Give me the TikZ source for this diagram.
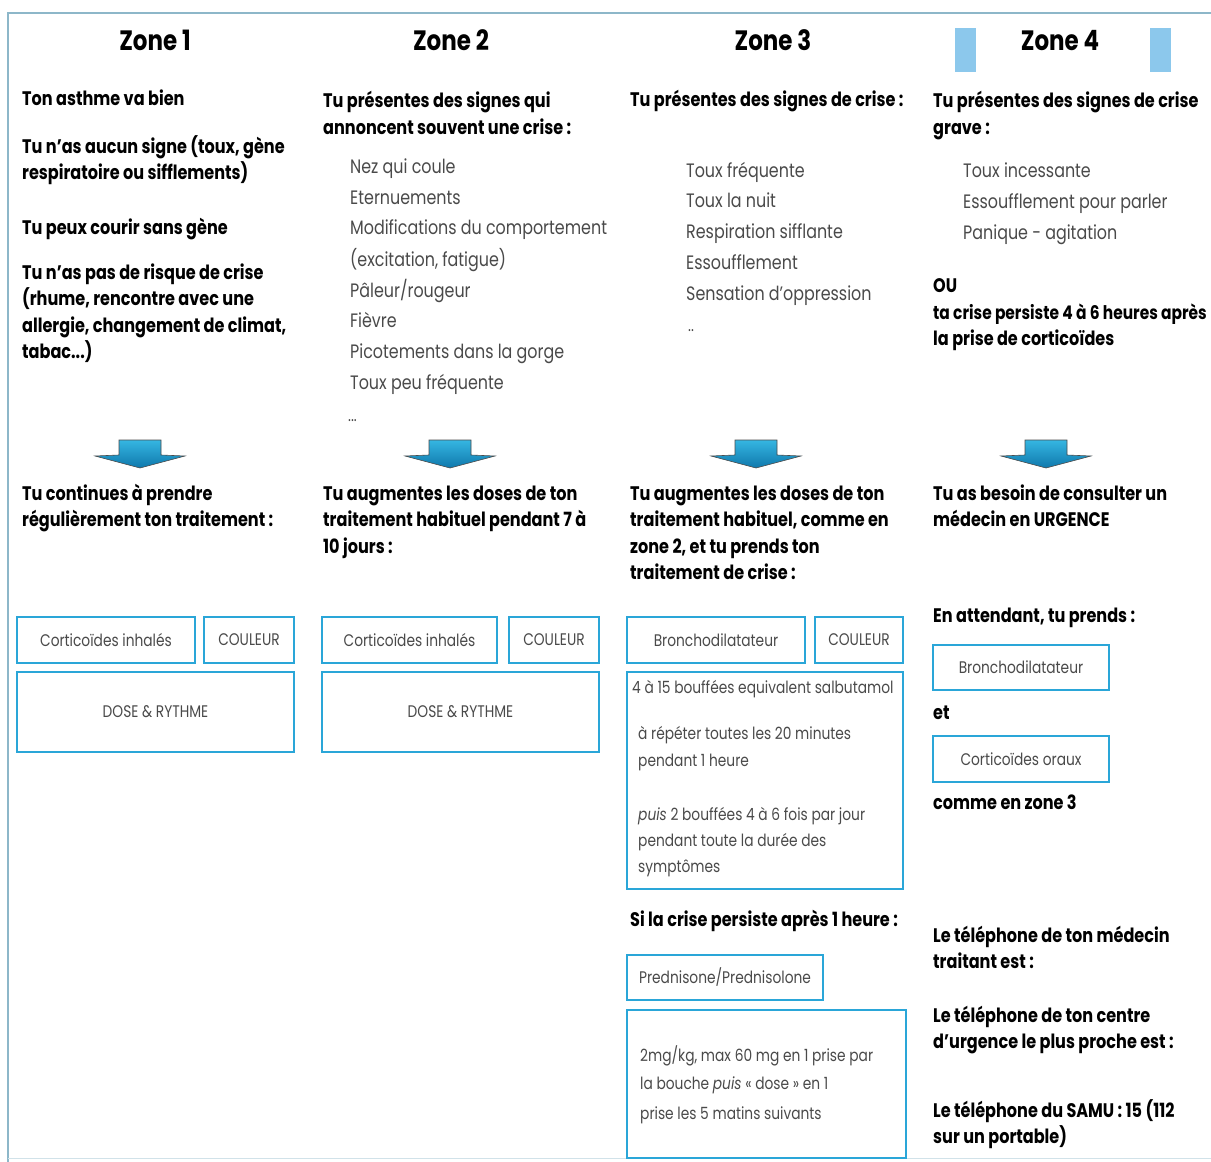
\documentclass[tikz,border=0pt]{standalone}
\usepackage{fontspec}
\setmainfont{Poppins}[FakeStretch=0.82]
\usetikzlibrary{shadings}
\definecolor{boxblue}{HTML}{2AA6D8}
\definecolor{framec}{HTML}{8DB7C9}
\definecolor{barblue}{HTML}{8CC8EC}
\definecolor{arrtop}{HTML}{35B6E2}
\definecolor{arrbot}{HTML}{0F78AC}
\definecolor{litec}{HTML}{4A4A4A}
\tikzset{
  bold/.style={font=\bfseries\fontsize{19.6}{23}\selectfont, text=black, inner sep=0pt, anchor=base west},
  lite/.style={font=\fontsize{19.4}{24}\selectfont, text=litec, inner sep=0pt, anchor=base west},
  small/.style={font=\fontsize{16.8}{19}\selectfont, text=litec, inner sep=0pt, anchor=base west},
  title/.style={font=\bfseries\fontsize{28}{30}\selectfont, text=black, inner sep=0pt, anchor=base},
  bx/.style={draw=boxblue, line width=1.6pt, rectangle, inner sep=0pt, font=\fontsize{16.8}{19}\selectfont, text=litec},
  downarrow/.style={top color=arrtop, bottom color=arrbot, draw=black!70, line width=0.6pt},
}
\newcommand\tl[5]{\node[#2] (#1) at (#3,#4) {#5};}
\newcommand\bxn[6]{\node[bx, minimum width={(#4)-(#2)}, minimum height={(#5)-(#3)}] (#1) at ({((#2)+(#4))/2},{((#3)+(#5))/2}) {#6};}
\newcommand\darr[2]{\draw[downarrow] (#2-21,440) -- (#2+21,440) -- (#2+21,455) -- (#2+45,456) -- (#2,468) -- (#2-45,456) -- (#2-21,455) -- cycle;}
\begin{document}
\begin{tikzpicture}[x=1pt,y=-1pt]
\useasboundingbox (0,0) rectangle (1211,1162);
\fill[white] (0,0) rectangle (1211,1162);
% frame
\draw[framec, line width=1.5pt] (8,1162) -- (8,13) -- (1211,13);
\draw[framec!40, line width=1pt] (8,1158) -- (1211,1158);
% zone 4 bars
\fill[barblue] (955,28) rectangle (976,72);
\fill[barblue] (1150,28) rectangle (1171,72);
% titles
\tl{z1}{title}{155}{50}{Zone 1}
\tl{z2}{title}{451}{50}{Zone 2}
\tl{z3}{title}{773}{50}{Zone 3}
\tl{z4}{title}{1060}{50}{Zone 4}
% column 1
\tl{a1}{bold}{22}{105}{Ton asthme va bien}
\tl{a2}{bold}{22}{153}{Tu n'as aucun signe (toux, gène}
\tl{a3}{bold}{22}{179}{respiratoire ou sifflements)}
\tl{a4}{bold}{22}{234}{Tu peux courir sans gène}
\tl{a5}{bold}{22}{279}{Tu n'as pas de risque de crise}
\tl{a6}{bold}{22}{305}{(rhume, rencontre avec une}
\tl{a7}{bold}{22}{332}{allergie, changement de climat,}
\tl{a8}{bold}{22}{358}{tabac...)}
% column 2
\tl{b1}{bold}{323}{107}{Tu présentes des signes qui}
\tl{b2}{bold}{323}{134}{annoncent souvent une crise :}
\tl{b3}{lite}{350}{173}{Nez qui coule}
\tl{b4}{lite}{350}{204}{Eternuements}
\tl{b5}{lite}{350}{234}{Modifications du comportement}
\tl{b6}{lite}{350}{266}{(excitation, fatigue)}
\tl{b7}{lite}{350}{297}{Pâleur/rougeur}
\tl{b8}{lite}{350}{327}{Fièvre}
\tl{b9}{lite}{350}{358}{Picotements dans la gorge}
\tl{b10}{lite}{350}{389}{Toux peu fréquente}
\tl{b11}{small}{348}{421}{...}
% column 3
\tl{c1}{bold}{630}{106}{Tu présentes des signes de crise :}
\tl{c2}{lite}{686}{177}{Toux fréquente}
\tl{c3}{lite}{686}{207}{Toux la nuit}
\tl{c4}{lite}{686}{238}{Respiration sifflante}
\tl{c5}{lite}{686}{269}{Essoufflement}
\tl{c6}{lite}{686}{300}{Sensation d'oppression}
\tl{c7}{small}{688}{331}{..}
% column 4
\tl{d1}{bold}{933}{107}{Tu présentes des signes de crise}
\tl{d2}{bold}{933}{134}{grave :}
\tl{d3}{lite}{963}{177}{Toux incessante}
\tl{d4}{lite}{963}{208}{Essoufflement pour parler}
\tl{d5}{lite}{963}{239}{Panique - agitation}
\tl{d6}{bold}{933}{292}{OU}
\tl{d7}{bold, font=\bfseries\fontsize{18.8}{23}\selectfont}{933}{319}{ta crise persiste 4 à 6 heures après}
\tl{d8}{bold}{933}{345}{la prise de corticoïdes}
% arrows
\darr{a}{140}
\darr{b}{450}
\darr{c}{756}
\darr{d}{1046}
% below arrows
\tl{e1}{bold}{22}{500}{Tu continues à prendre}
\tl{e2}{bold}{22}{526}{régulièrement ton traitement :}
\tl{f1}{bold}{323}{500}{Tu augmentes les doses de ton}
\tl{f2}{bold}{323}{526}{traitement habituel pendant 7 à}
\tl{f3}{bold}{323}{553}{10 jours :}
\tl{g1}{bold}{630}{500}{Tu augmentes les doses de ton}
\tl{g2}{bold}{630}{526}{traitement habituel, comme en}
\tl{g3}{bold}{630}{553}{zone 2, et tu prends ton}
\tl{g4}{bold}{630}{579}{traitement de crise :}
\tl{h1}{bold}{933}{500}{Tu as besoin de consulter un}
\tl{h2}{bold}{933}{526}{médecin en URGENCE}
\tl{h3}{bold}{933}{622}{En attendant, tu prends :}
% boxes col 1
\bxn{k1}{17}{617}{195}{663}{Corticoïdes inhalés}
\bxn{k2}{204}{617}{294}{663}{COULEUR}
\bxn{k3}{17}{672}{294}{752}{DOSE \& RYTHME}
% boxes col 2
\bxn{m1}{322}{617}{497}{663}{Corticoïdes inhalés}
\bxn{m2}{509}{617}{599}{663}{COULEUR}
\bxn{m3}{322}{672}{599}{752}{DOSE \& RYTHME}
% boxes col 3
\bxn{n1}{627}{617}{805}{663}{Bronchodilatateur}
\bxn{n2}{815}{617}{903}{663}{COULEUR}
\bxn{n3}{627}{672}{903}{889}{}
\tl{n4}{small}{632}{693}{4 à 15 bouffées equivalent salbutamol}
\tl{n5}{small}{638}{739}{à répéter toutes les 20 minutes}
\tl{n6}{small}{638}{766}{pendant 1 heure}
\tl{n7}{small}{638}{820}{\textit{puis} 2 bouffées 4 à 6 fois par jour}
\tl{n8}{small}{638}{846}{pendant toute la durée des}
\tl{n9}{small}{638}{872}{symptômes}
\tl{n10}{bold}{630}{926}{Si la crise persiste après 1 heure :}
\bxn{p1}{627}{955}{823}{1000}{Prednisone/Prednisolone}
\bxn{p2}{627}{1010}{906}{1158}{}
\tl{p3}{small}{640}{1061}{2mg/kg, max 60 mg en 1 prise par}
\tl{p4}{small}{640}{1089}{la bouche \textit{puis} « dose » en 1}
\tl{p5}{small}{640}{1119}{prise les 5 matins suivants}
% col 4 boxes
\bxn{q1}{933}{645}{1109}{690}{Bronchodilatateur}
\tl{q2}{bold}{933}{719}{et}
\bxn{q3}{933}{736}{1109}{782}{Corticoïdes oraux}
\tl{q4}{bold}{933}{809}{comme en zone 3}
\tl{r1}{bold}{933}{942}{Le téléphone de ton médecin}
\tl{r2}{bold}{933}{968}{traitant est :}
\tl{r3}{bold}{933}{1022}{Le téléphone de ton centre}
\tl{r4}{bold}{933}{1048}{d'urgence le plus proche est :}
\tl{r5}{bold}{933}{1117}{Le téléphone du SAMU : 15 (112}
\tl{r6}{bold}{933}{1143}{sur un portable)}
\end{tikzpicture}
\end{document}
